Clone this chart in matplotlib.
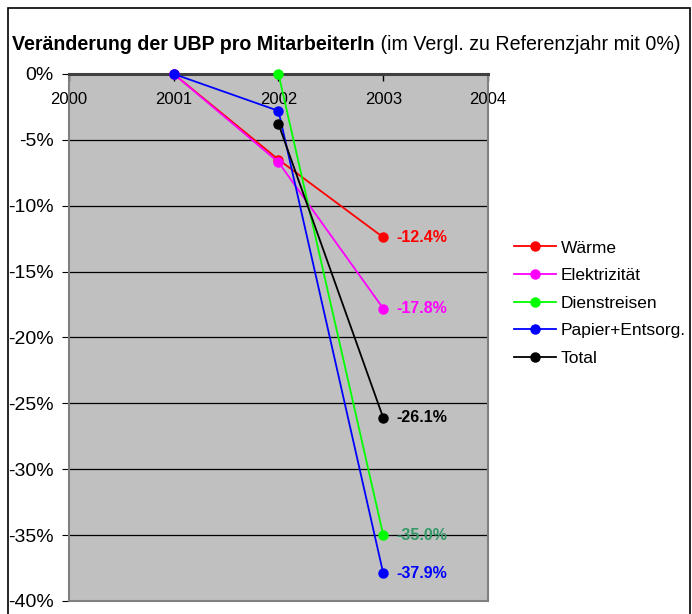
import numpy as np
import matplotlib
matplotlib.use('Agg')
import matplotlib.pyplot as plt
from matplotlib.ticker import FuncFormatter

plt.rcParams['font.family'] = ['Liberation Sans', 'DejaVu Sans']

# values (percent change vs. reference year)
series_names = ['Wärme', 'Elektrizität', 'Dienstreisen', 'Papier+Entsorg.', 'Total']
years_waerme = [2001, 2002, 2003]
vals_waerme = [0.0, -6.5, -12.4]
years_strom = [2001, 2002, 2003]
vals_strom = [0.0, -6.7, -17.8]
years_reisen = [2002, 2003]
vals_reisen = [0.0, -35.0]
years_papier = [2001, 2002, 2003]
vals_papier = [0.0, -2.8, -37.9]
years_total = [2002, 2003]
vals_total = [-3.8, -26.1]

line_colors = ['#FF0000', '#FF00FF', '#00FF00', '#0000FF', '#000000']
label_colors = ['#FF0000', '#FF00FF', '#339966', '#0000FF', '#000000']

fig = plt.figure(figsize=(6.92, 6.14), dpi=100)
ax = fig.add_axes([0.0997, 0.0212, 0.6055, 0.8583])
ax.set_facecolor('#C0C0C0')

all_years = [years_waerme, years_strom, years_reisen, years_papier, years_total]
all_vals = [vals_waerme, vals_strom, vals_reisen, vals_papier, vals_total]

for name, xs, ys, c, lc in zip(series_names, all_years, all_vals, line_colors, label_colors):
    ax.plot(xs, ys, color=c, lw=1.3, marker='o', ms=6.5, label=name, zorder=3, clip_on=False)
    ax.text(xs[-1] + 0.13, ys[-1], f'{ys[-1]:.1f}%', color=lc, fontsize=11.5,
            fontweight='bold', va='center', ha='left', zorder=4)

ax.set_xlim(2000, 2004)
ax.set_ylim(-40, 0)
ax.set_yticks(np.arange(-40, 1, 5))
ax.yaxis.set_major_formatter(FuncFormatter(lambda v, p: f'{v:.0f}%'))
ax.set_xticks([2000, 2001, 2002, 2003, 2004])
ax.grid(axis='y', color='black', lw=0.9)
ax.set_axisbelow(True)

# x axis sits on the 0% line at the top, labels drawn just under it
ax.xaxis.set_ticks_position('top')
ax.tick_params(axis='x', direction='in', length=5, pad=-13, labelsize=12,
               colors='black', labeltop=True, width=1)
ax.tick_params(axis='y', direction='out', length=5, labelsize=14, pad=6)
for lbl in ax.get_xticklabels():
    lbl.set_verticalalignment('top')

for s in ['left', 'bottom', 'right']:
    ax.spines[s].set_color('#808080')
    ax.spines[s].set_linewidth(1.5)
ax.spines['top'].set_color('#404040')
ax.spines['top'].set_linewidth(2.2)

leg = fig.legend(loc='upper left', bbox_to_anchor=(0.72, 0.634), frameon=False,
                 fontsize=12.5, handlelength=2.4, labelspacing=0.72, handletextpad=0.3)

t1 = fig.text(0.0175, 0.919, 'Veränderung der UBP pro MitarbeiterIn', fontsize=14.1,
              fontweight='bold', va='baseline')
ax.annotate(' (im Vergl. zu Referenzjahr mit 0%)', xy=(1, 0), xycoords=t1,
            fontsize=14.1, va='bottom', ha='left')

# outer frame of the chart area (bottom edge runs off the picture)
fig.patches.append(plt.Rectangle((8 / 692, -0.05), 682 / 692, 1.05 - 8 / 614,
                                 transform=fig.transFigure, fill=False,
                                 edgecolor='black', lw=1.2))

fig.savefig('out.png', dpi=100)
